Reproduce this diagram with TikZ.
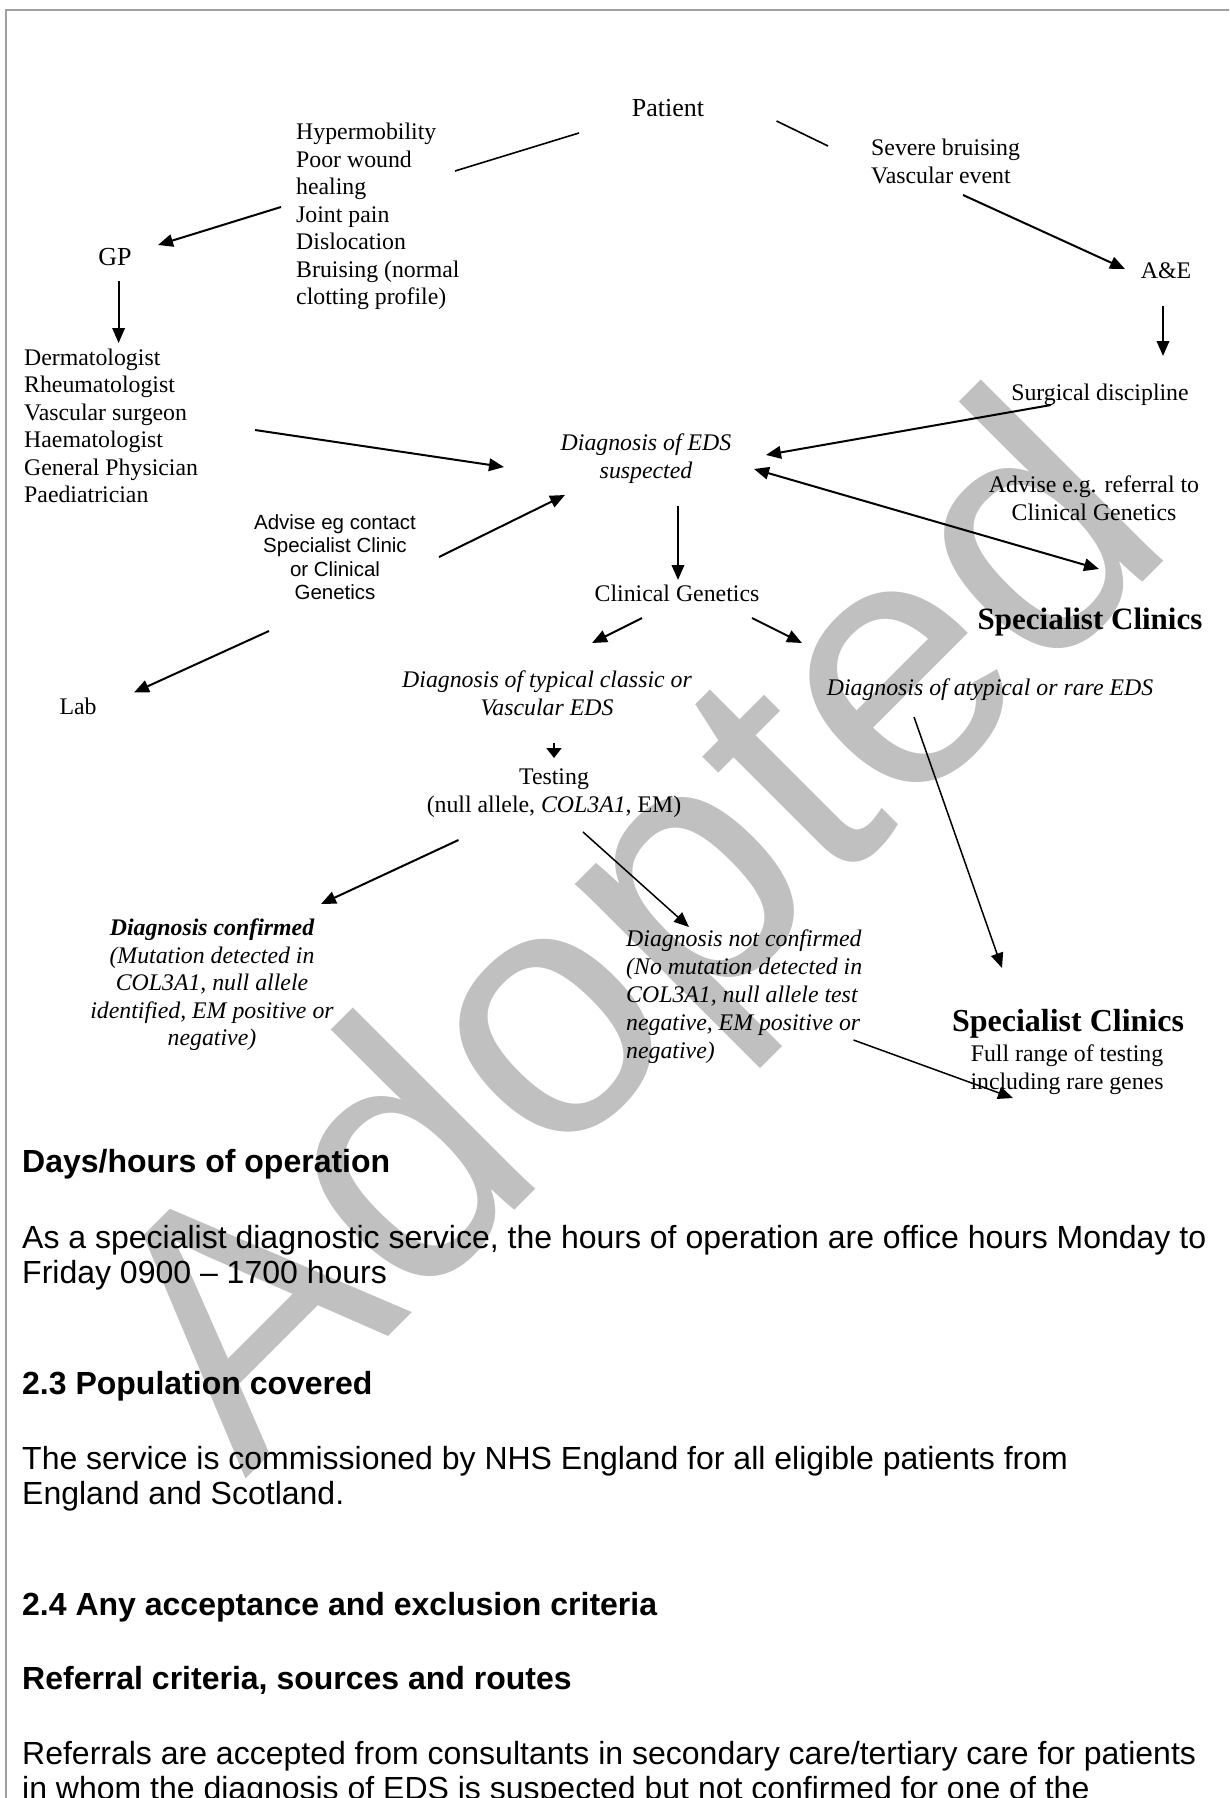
\documentclass[tikz,border=0pt]{standalone}
\usepackage{fontspec}
\setmainfont{Liberation Serif}
\newfontfamily\arialfont{Liberation Sans}
\usetikzlibrary{arrows.meta}
\definecolor{wmgray}{RGB}{192,192,192}
\definecolor{framegray}{RGB}{160,160,160}
\begin{document}
\begin{tikzpicture}[x=1pt,y=-1pt,
  tnr/.style={font=\fontsize{23.8}{27.5}\selectfont, inner sep=0pt, execute at begin node={\rule{0pt}{17pt}}},
  tnri/.style={font=\fontsize{23.8}{27.5}\selectfont\itshape, inner sep=0pt, execute at begin node={\rule{0pt}{17pt}}},
  bigtnr/.style={font=\fontsize{26}{30}\selectfont, inner sep=0pt},
  sbold/.style={font=\fontsize{31}{34}\selectfont\bfseries, inner sep=0pt},
  asmall/.style={font=\arialfont\fontsize{20.5}{23.5}\selectfont, inner sep=0pt, execute at begin node={\rule{0pt}{16pt}}},
  bodytext/.style={font=\arialfont\fontsize{32}{35.5}\selectfont, inner sep=0pt, anchor=north west, align=left, execute at begin node={\rule{0pt}{25pt}}},
  bodyhead/.style={font=\arialfont\fontsize{32}{35.5}\selectfont\bfseries, inner sep=0pt, anchor=base west},
  arr/.style={draw, line width=2pt, -{Triangle[length=15pt,width=12.5pt]}},
  thinarr/.style={draw, line width=1.5pt, -{Triangle[length=15pt,width=12.5pt]}},
  plainline/.style={draw, line width=1.6pt},
]
\path[use as bounding box] (0,0) rectangle (1229,1798);
\clip (0,0) rectangle (1229,1798);
\fill[white] (0,0) rectangle (1229,1798);

% watermark
\node[anchor=base west, inner sep=0pt, rotate=45, text=wmgray,
      font=\arialfont\fontsize{355}{355}\selectfont] (wm) at (245,1480) {Adopted};

% frame
\draw[framegray, line width=2pt] (1229,10) -- (6,10) -- (6,1798);

% nodes
\node[bigtnr, anchor=base] (patient) at (668,117) {Patient};
\node[tnr, anchor=north west, align=left] (symp) at (296,123)
  {Hypermobility\\Poor wound\\healing\\Joint pain\\Dislocation\\Bruising (normal\\clotting profile)};
\node[bigtnr, anchor=base] (gp) at (115,265) {GP};
\node[tnr, anchor=north west, align=left] (severe) at (871,139) {Severe bruising\\Vascular event};
\node[tnr, anchor=base] (ae) at (1166,278) {A\&E};
\node[tnr, anchor=base] (surg) at (1100,400) {Surgical discipline};
\node[tnr, anchor=north west, align=left] (doctors) at (24,348.5)
  {Dermatologist\\Rheumatologist\\Vascular surgeon\\Haematologist\\General Physician\\Paediatrician};
\node[tnri, anchor=north, align=center] (diag) at (646,434) {Diagnosis of EDS\\suspected};
\node[asmall, anchor=north, align=center] (advise1) at (335,514)
  {Advise eg contact\\Specialist Clinic\\or Clinical\\Genetics};
\node[tnr, anchor=north, align=center] (advise2) at (1094,476) {Advise e.g. referral to\\Clinical Genetics};
\node[tnr, anchor=base] (clingen) at (677,601) {Clinical Genetics};
\node[sbold, anchor=base] (spec1) at (1090,629) {Specialist Clinics};
\node[tnr, anchor=base] (lab) at (78,714) {Lab};
\node[tnri, anchor=north, align=center] (typical) at (547,671) {Diagnosis of typical classic or\\Vascular EDS};
\node[tnri, anchor=base] (atyp) at (990,695.5) {Diagnosis of atypical or rare EDS};
\node[tnr, anchor=north, align=center] (testing) at (554,769) {Testing\\(null allele, \textit{COL3A1}, EM)};
\node[tnri, anchor=north, align=center] (conf) at (212,919)
  {\textbf{Diagnosis confirmed}\\(Mutation detected in\\COL3A1, null allele\\identified, EM positive or\\negative)};
\node[tnri, anchor=north west, align=left, font=\fontsize{23.8}{28}\selectfont\itshape] (notconf) at (626,930)
  {Diagnosis not confirmed\\(No mutation detected in\\COL3A1, null allele test\\negative, EM positive or\\negative)};
\node[sbold, anchor=base, font=\fontsize{32}{35}\selectfont\bfseries] (spec2) at (1068,1031) {Specialist Clinics};
\node[tnr, anchor=north, align=center] (spec2sub) at (1067,1045) {Full range of testing\\including rare genes};

% connectors
\draw[plainline] ([shift={(-89,16)}]patient.base) -- ([shift={(159,48)}]symp.north west);
\draw[plainline] ([shift={(108.5,4)}]patient.base) -- ([shift={(-43,7)}]severe.north west);
\draw[arr] ([shift={(-15,84)}]symp.north west) -- ([shift={(43,-20)}]gp.base);
\draw[arr] ([shift={(3.6,16)}]gp.base) -- ([shift={(94.6,-5.5)}]doctors.north west);
\draw[arr] ([shift={(92,56)}]severe.north west) -- ([shift={(-41,-9)}]ae.base);
\draw[arr] ([shift={(-3,28)}]ae.base) -- ([shift={(63,-44)}]surg.base);
\draw[arr] ([shift={(231,81.5)}]doctors.north west) -- ([shift={(-142,33)}]diag.north);
\draw[arr] ([shift={(104,43)}]advise1.north) -- ([shift={(-81,61)}]diag.north);
\draw[arr] ([shift={(-49,5)}]surg.base) -- ([shift={(120,21)}]diag.north);
\draw[line width=2pt, {Triangle[length=15pt,width=12.5pt]}-{Triangle[length=15pt,width=12.5pt]}]
  ([shift={(108,35)}]diag.north) -- ([shift={(9,-60)}]spec1.base);
\draw[arr] ([shift={(32,72)}]diag.north) -- ([shift={(1,-21)}]clingen.base);
\draw[arr] ([shift={(-35,17)}]clingen.base) -- ([shift={(45,-28)}]typical.north);
\draw[arr] ([shift={(75,17)}]clingen.base) -- ([shift={(-188,-52.5)}]atyp.base);
\draw[line width=2pt, -{Triangle[length=10pt,width=15pt]}] ([shift={(7,72)}]typical.north) -- ([shift={(0,-11)}]testing.north);
\draw[arr] ([shift={(-66,117)}]advise1.north) -- ([shift={(56,-21.5)}]lab.base);
\draw[arr] ([shift={(-95.5,71)}]testing.north) -- ([shift={(109,-15)}]conf.north);
\draw[thinarr] ([shift={(29,63)}]testing.north) -- ([shift={(63,-3)}]notconf.north west);
\draw[thinarr] ([shift={(-76,21.5)}]atyp.base) -- ([shift={(-66,-63)}]spec2.base);
\draw[thinarr] ([shift={(227.5,110)}]notconf.north west) -- ([shift={(-54,53)}]spec2sub.north);

% body text
\node[bodyhead] (h1) at (22,1172.5) {Days/hours of operation};
\node[bodytext] (p1) at (22,1225)
  {As a specialist diagnostic service, the hours of operation are office hours Monday to\\Friday 0900 – 1700 hours};
\node[bodyhead] (h2) at (22,1394.5) {2.3 Population covered};
\node[bodytext] (p2) at (22,1446)
  {The service is commissioned by NHS England for all eligible patients from\\England and Scotland.};
\node[bodyhead] (h3) at (22,1615.5) {2.4 Any acceptance and exclusion criteria};
\node[bodyhead] (h4) at (22,1689.5) {Referral criteria, sources and routes};
\node[bodytext] (p3) at (22,1741)
  {Referrals are accepted from consultants in secondary care/tertiary care for patients\\in whom the diagnosis of EDS is suspected but not confirmed for one of the};
\end{tikzpicture}
\end{document}
